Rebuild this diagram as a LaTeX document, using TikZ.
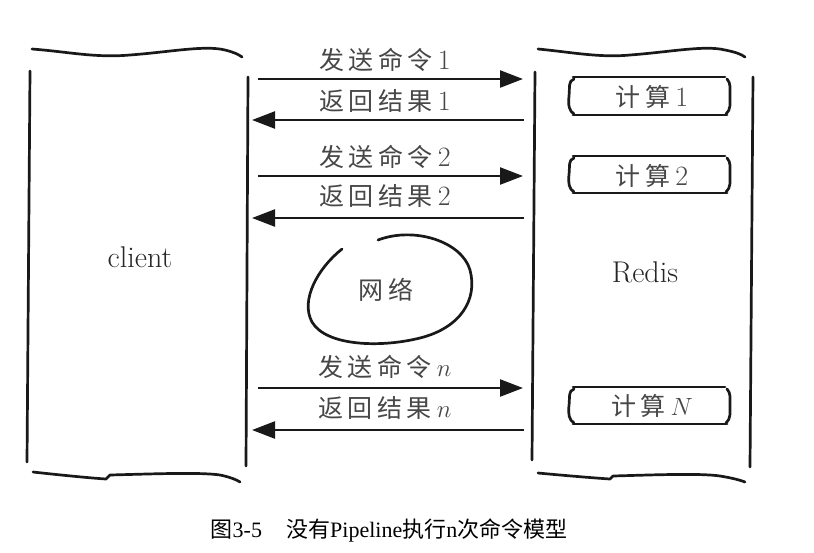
\documentclass[tikz,border=0pt]{standalone}
\usepackage{fontspec}
\newfontfamily\cjk[LetterSpace=18]{Noto Sans CJK SC}
\newfontfamily\cjkcap{Noto Sans CJK SC}
\newfontfamily\capserif{Liberation Serif}
\usetikzlibrary{arrows.meta}
\tikzset{
  hand/.style={line width=2.7pt, line cap=round, line join=round, black!90},
  arr/.style={line width=2.4pt, black!90, -{Triangle[length=23pt,width=17pt]}},
  lbl/.style={font=\fontsize{25}{27}\selectfont, text=black!72, inner sep=0pt},
  calc/.style={font=\fontsize{25}{27}\selectfont, text=black!72, inner sep=0pt},
  big/.style={font=\fontsize{30}{32}\selectfont, text=black!85, inner sep=0pt},
}
\newcommand{\num}[1]{\hspace{0.2em}{\fontsize{28}{30}\selectfont #1}}
\begin{document}
\begin{tikzpicture}[x=1pt,y=-1pt]
\useasboundingbox (0,0) rectangle (814,552);
% client box
\draw[hand] (32,49) .. controls (70,52) and (95,58) .. (130,55) .. controls (170,52) and (205,45) .. (225,50) .. controls (233,52) and (238,54) .. (242,57);
\draw[hand] (30,71) -- (27,462);
\draw[hand] (248,77) -- (246,466);
\draw[hand] (33,472) .. controls (60,475) and (90,478) .. (106,479) -- (110,475) .. controls (150,474) and (200,472) .. (220,475) .. controls (230,477) and (237,480) .. (240,482);
\node[big] (client) at (140,257) {client};
% redis box
\draw[hand] (538,49) .. controls (570,52) and (600,58) .. (630,55) .. controls (670,52) and (705,45) .. (725,50) .. controls (735,52) and (741,54) .. (745,57);
\draw[hand] (535,72) -- (532,460);
\draw[hand] (753,77) -- (750,467);
\draw[hand] (538,473) .. controls (570,476) and (595,478) .. (610,479) -- (613,476) .. controls (650,475) and (700,473) .. (720,476) .. controls (732,478) and (740,480) .. (745,482);
\node[big] (redis) at (645,272) {Redis};
% arrow end points
\coordinate (c1) at (258,79);  \coordinate (r1) at (523,79);
\coordinate (r1b) at (524,120); \coordinate (c1b) at (252,120);
\coordinate (c2) at (258,176); \coordinate (r2) at (523,176);
\coordinate (r2b) at (524,218); \coordinate (c2b) at (252,218);
\coordinate (cn) at (258,388); \coordinate (rn) at (523,388);
\coordinate (rnb) at (524,430); \coordinate (cnb) at (252,430);
\draw[arr] (c1) -- (r1);
\draw[arr] (r1b) -- (c1b);
\draw[arr] (c2) -- (r2);
\draw[arr] (r2b) -- (c2b);
\draw[arr] (cn) -- (rn);
\draw[arr] (rnb) -- (cnb);
\node[lbl] (s1) at (385,60) {{\cjk 发送命令}\num{1}};
\node[lbl] (b1) at (385,101) {{\cjk 返回结果}\num{1}};
\node[lbl] (s2) at (385,157) {{\cjk 发送命令}\num{2}};
\node[lbl] (b2) at (385,196) {{\cjk 返回结果}\num{2}};
\node[lbl] (sn) at (385,367) {{\cjk 发送命令}\num{$n$}};
\node[lbl] (bn) at (385,408) {{\cjk 返回结果}\num{$n$}};
% compute boxes
\foreach \t/\b/\n in {77/115/1, 156/193/2, 387/424/N}{
  \draw[hand] (573,\t) -- (725,\t);
  \draw[hand] (573,\b) -- (727,\b);
  \draw[hand] (574,\t+2) .. controls (568,\t+4) and (570,\t+10) .. (569,{(\t+\b)/2}) .. controls (568,\b-10) and (569,\b-4) .. (574,\b-1);
  \draw[hand] (727,\t+2) .. controls (731,\t+6) and (730,\t+12) .. (730,{(\t+\b)/2}) .. controls (730,\b-12) and (731,\b-5) .. (726,\b-1);
}
\node[calc] (k1) at (652,97) {{\cjk 计算}\num{1}};
\node[calc] (k2) at (652,176) {{\cjk 计算}\num{2}};
\node[calc] (kn) at (652,406) {{\cjk 计算}\num{$N$}};
% network
\draw[hand] (342,249) .. controls (318,268) and (300,300) .. (312,322) .. controls (326,346) and (380,348) .. (420,338) .. controls (460,328) and (478,300) .. (470,270) .. controls (462,242) and (415,226) .. (378,240);
\node[calc] (net) at (386,290) {{\cjk 网络}};
% caption
\node[inner sep=0pt, font=\fontsize{22}{23}\selectfont] (cap) at (389,530) {{\cjkcap 图}{\capserif 3-5}\hspace{1.1em}{\cjkcap 没有}{\capserif Pipeline}{\cjkcap 执行}{\capserif n}{\cjkcap 次命令模型}};
\end{tikzpicture}
\end{document}
